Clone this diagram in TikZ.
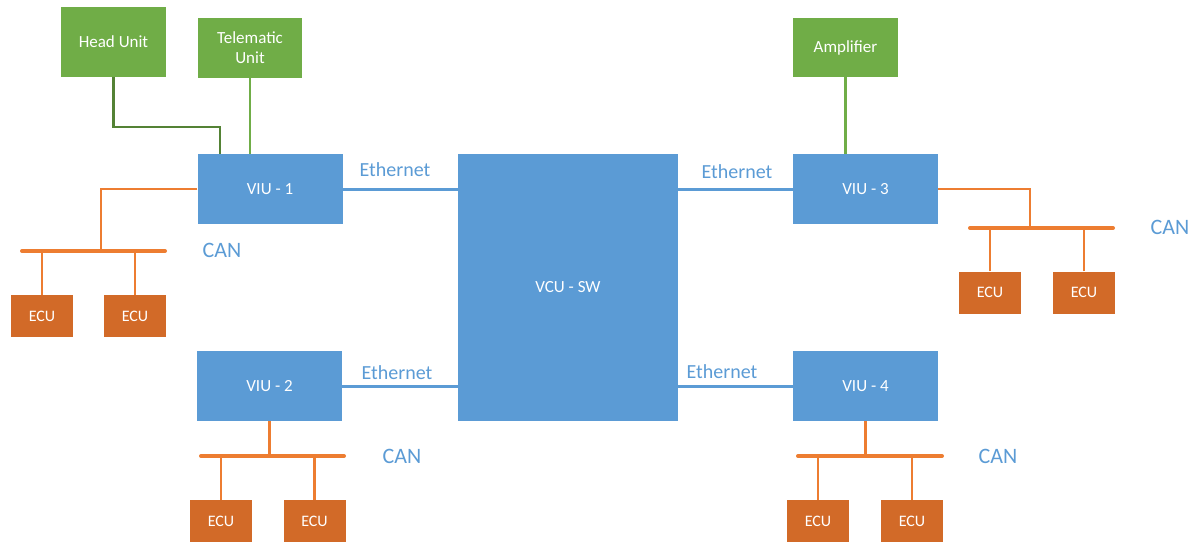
\documentclass[tikz,border=0pt]{standalone}
\usepackage{fontspec}
\setmainfont{Carlito}
\definecolor{boxblue}{HTML}{5B9BD5}
\definecolor{boxgreen}{HTML}{70AD47}
\definecolor{darkgreen}{HTML}{548235}
\definecolor{lineorange}{HTML}{ED7D31}
\definecolor{ecuorange}{HTML}{D26A28}
\definecolor{labelblue}{HTML}{5B9BD5}
\begin{document}
\begin{tikzpicture}[x=1pt,y=-1pt,
  unit/.style={fill=#1,draw=none,text=white,inner sep=0pt,align=center,
    font=\fontsize{17}{20}\selectfont},
  viu/.style={unit=boxblue,minimum width=145pt,minimum height=70pt},
  green box/.style={unit=boxgreen,minimum width=105pt},
  ecu/.style={unit=ecuorange,minimum width=62pt,minimum height=42pt,
    font=\fontsize{16}{19}\selectfont},
  eth/.style={draw=boxblue,line width=3pt},
  can/.style={draw=lineorange,line width=2.5pt},
  bus/.style={draw=lineorange,line width=4pt,line cap=round},
  netlabel/.style={text=labelblue,inner sep=0pt,font=\fontsize{20}{24}\selectfont},
  canlabel/.style={text=labelblue,inner sep=0pt,font=\fontsize{22}{26}\selectfont}]
\useasboundingbox (0,0) rectangle (1199,542);

% upper units
\node[green box,minimum height=70pt] (hu) at (113.5,42) {Head Unit};
\node[green box,minimum width=104pt,minimum height=60pt] (tu) at (250,48) {Telematic\\Unit};
\node[green box,minimum height=59pt] (amp) at (845.5,47.5) {Amplifier};

% VIUs and switch
\node[viu] (viu1) at (270,189) {VIU - 1};
\node[viu] (viu2) at (269.5,386) {VIU - 2};
\node[viu] (viu3) at (865.5,189) {VIU - 3};
\node[viu] (viu4) at (865.5,386) {VIU - 4};
\node[unit=boxblue,minimum width=220pt,minimum height=267pt] (vcu) at (568,287.5) {VCU - SW};

% ECUs
\node[ecu] (e11) at (42,316) {ECU};
\node[ecu] (e12) at (135,316) {ECU};
\node[ecu] (e31) at (990,292.5) {ECU};
\node[ecu] (e32) at (1084,292.5) {ECU};
\node[ecu] (e21) at (221,521) {ECU};
\node[ecu] (e22) at (314.5,521) {ECU};
\node[ecu] (e41) at (818,521) {ECU};
\node[ecu] (e42) at (912,521) {ECU};

% green links
\coordinate (hk) at (220,127);
\draw[darkgreen,line width=2.2pt] (hu.south) |- (hk) -- (hk |- viu1.north);
\draw[boxgreen,line width=2.2pt] (tu.south) -- (tu.south |- viu1.north);
\draw[boxgreen,line width=2.2pt] (amp.south) -- (amp.south |- viu3.north);

% Ethernet links
\draw[eth] (viu1.east) -- (vcu.west |- viu1.east);
\draw[eth] (viu2.east) -- (vcu.west |- viu2.east);
\draw[eth] (vcu.east |- viu3.west) -- (viu3.west);
\draw[eth] (vcu.east |- viu4.west) -- (viu4.west);
\node[netlabel] (l1) at (395,170) {Ethernet};
\node[netlabel] (l2) at (397,373) {Ethernet};
\node[netlabel] (l3) at (737,172) {Ethernet};
\node[netlabel] (l4) at (722,372) {Ethernet};

% CAN buses
\coordinate (b1l) at (22,251);  \coordinate (b1r) at (165,251);
\coordinate (b1t) at (101,251);
\draw[can] (viu1.west) -| (b1t);
\draw[bus] (b1l) -- (b1r);
\draw[can] (e11.north) -- (e11.north |- b1l);
\draw[can] (e12.north) -- (e12.north |- b1l);

\coordinate (b2l) at (201,456);  \coordinate (b2r) at (344,456);
\draw[can] (viu2.south) -- (viu2.south |- b2l);
\draw[bus] (b2l) -- (b2r);
\draw[can] (e21.north) -- (e21.north |- b2l);
\draw[can] (e22.north) -- (e22.north |- b2l);

\coordinate (b3l) at (970,228);  \coordinate (b3r) at (1113,228);
\coordinate (b3t) at (1030,228);
\draw[can] (viu3.east) -| (b3t);
\draw[bus] (b3l) -- (b3r);
\draw[can] (e31.north) -- (e31.north |- b3l);
\draw[can] (e32.north) -- (e32.north |- b3l);

\coordinate (b4l) at (798,456);  \coordinate (b4r) at (942,456);
\draw[can] (viu4.south) -- (viu4.south |- b4l);
\draw[bus] (b4l) -- (b4r);
\draw[can] (e41.north) -- (e41.north |- b4l);
\draw[can] (e42.north) -- (e42.north |- b4l);

\node[canlabel] (c1) at (222,250) {CAN};
\node[canlabel] (c2) at (402,456) {CAN};
\node[canlabel] (c3) at (1170,227) {CAN};
\node[canlabel] (c4) at (998,456) {CAN};
\end{tikzpicture}
\end{document}
